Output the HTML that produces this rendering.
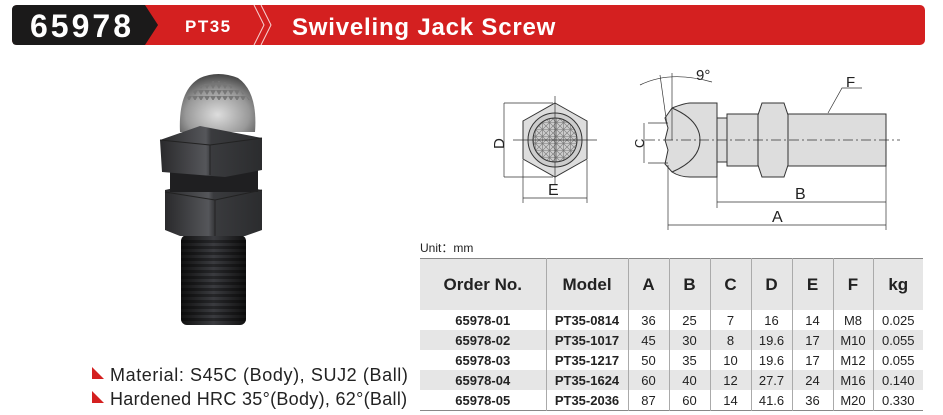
<!DOCTYPE html>
<html><head><meta charset="utf-8"><style>
body{margin:0;width:943px;height:415px;background:#fff;position:relative;overflow:hidden;font-family:"Liberation Sans",Arial,sans-serif}
.abs{position:absolute}
table{border-collapse:collapse;position:absolute;left:420px;top:258px;width:503px;font-size:13px;color:#222}
td{text-align:center;padding:0;height:20px;border-left:1px solid #aaa}
td:first-child{border-left:none}
tr.h td{height:51px;font-size:17px;font-weight:bold;background:#e6e6e6}
tr.g td{background:#e6e6e6}
tr td:nth-child(1),tr td:nth-child(2){font-weight:bold}
table{border-top:1px solid #888;border-bottom:1px solid #888}
</style></head><body>
<svg class="abs" style="left:0;top:0" width="943" height="415">
<defs>
<linearGradient id="hx" x1="0" x2="1"><stop offset="0" stop-color="#2a2a2c"/><stop offset=".45" stop-color="#55565a"/><stop offset=".5" stop-color="#3a3b3e"/><stop offset="1" stop-color="#2b2c2e"/></linearGradient>
<linearGradient id="th" x1="0" x2="1"><stop offset="0" stop-color="#111"/><stop offset=".5" stop-color="#3a3b3f"/><stop offset="1" stop-color="#111"/></linearGradient>
<radialGradient id="ball" cx=".5" cy=".7" r=".7"><stop offset="0" stop-color="#ddd"/><stop offset=".6" stop-color="#999"/><stop offset="1" stop-color="#444"/></radialGradient>
<pattern id="thr" width="6" height="6" patternUnits="userSpaceOnUse"><rect width="6" height="3" fill="#000" opacity=".35"/></pattern>
<pattern id="kn" width="6" height="6" patternUnits="userSpaceOnUse"><path d="M0 0L3 5L6 0" fill="#777"/></pattern>
<pattern id="grid" width="7" height="7" patternUnits="userSpaceOnUse"><path d="M0 0L7 7M7 0L0 7M3.5 0V7M0 3.5H7" stroke="#777" stroke-width=".6" fill="none"/></pattern>
</defs>
<rect x="12" y="5" width="913" height="40" rx="5" fill="#d42020"/>
<path d="M17 5H145L158 25L145 45H17Q12 45 12 40V10Q12 5 17 5Z" fill="#1b1a1a"/>
<text x="30" y="37" font-size="32" font-weight="bold" fill="#fff" letter-spacing="3">65978</text>
<text x="185" y="32" font-size="17" font-weight="bold" fill="#fff" letter-spacing="1.5">PT35</text>
<path d="M254 5L264 25L254 45M261 5L271 25L261 45" stroke="#fff" stroke-width="1" fill="none" opacity=".8"/>
<text x="292" y="35" font-size="24" font-weight="bold" fill="#fff" letter-spacing="0.8">Swiveling Jack  Screw</text>
<path d="M180 132Q178 90 200 78Q218 70 238 78Q258 92 255 132Z" fill="url(#ball)"/>
<path d="M185 100Q217 62 250 100Z" fill="url(#kn)"/>
<rect x="181" y="235" width="65" height="90" rx="6" fill="url(#th)"/>
<rect x="181" y="240" width="65" height="82" fill="url(#thr)"/>
<path d="M165 190L210 180L262 190V230L245 236H180L165 230Z" fill="url(#hx)"/>
<rect x="170" y="170" width="88" height="22" fill="#1f1f21"/>
<path d="M160 140L200 126L262 138V170L225 177L162 172Z" fill="url(#hx)"/>
<path d="M160 140L210 145L262 138M210 145V175M165 192L215 200L262 190M215 200V236" stroke="#222" fill="none"/>
<g stroke="#333" stroke-width="1" fill="none">
<path d="M555 103L587 121L587 159L555 177L523 159L523 121Z" fill="#ddd"/>
<circle cx="555" cy="140" r="27" fill="#ccc"/>
<circle cx="555" cy="140" r="22" fill="url(#grid)"/>
<path d="M513 140H597M555 96V185" stroke-width=".7"/>
<path d="M504 103H553M504 177H553M504 103V177M523 160V203M587 160V203M523 198H587" stroke-width=".7"/>
</g>
<text x="488" y="147" font-size="15" fill="#222" transform="rotate(-90 497 140)">D</text>
<text x="548" y="195" font-size="16" fill="#222">E</text>
<g stroke="#333" stroke-width="1">
<path d="M672 108Q685 103 690 103H717V177H690Q680 177 672 172L665 164L668 150L665 140L668 128L665 118Z" fill="#ddd"/>
<path d="M717 118H727V162H717Z" fill="#ddd"/>
<rect x="727" y="114" width="159" height="52" fill="#ddd"/>
<path d="M762 103H784L788 115V165L784 177H762L758 165V115Z" fill="#ddd"/>
<path d="M645 140H900" stroke-dasharray="10 3 2 3" stroke-width=".7" fill="none"/>
<path d="M672 108Q700 120 700 140Q700 160 672 172" fill="none"/>
<g fill="none" stroke-width=".7">
<path d="M648 123H668M648 163H668M644 123V163"/>
<path d="M717 177V208M886 166V230M668 165V230M717 202H886M668 225H886"/>
<path d="M672 73V140M660 75L667 125M640 85Q670 70 712 82"/>
<path d="M828 113L842 88H862"/>
</g>
</g>
<text x="632" y="150" font-size="13" fill="#222" transform="rotate(-90 637 143)">C</text>
<text x="795" y="199" font-size="16" fill="#222">B</text>
<text x="772" y="222" font-size="16" fill="#222">A</text>
<text x="696" y="80" font-size="15" fill="#222">9°</text>
<text x="846" y="87" font-size="15" fill="#222">F</text>
<path d="M92 367V379H104Z" fill="#d42020"/>
<path d="M92 391V403H104Z" fill="#d42020"/>
<text x="110" y="381" font-size="18" fill="#222" letter-spacing="0.6">Material: S45C (Body), SUJ2 (Ball)</text>
<text x="110" y="405" font-size="18" fill="#222" letter-spacing="0.3">Hardened HRC 35°(Body), 62°(Ball)</text>
<text x="420" y="252" font-size="12" fill="#222">Unit：mm</text>
</svg>
<table>
<colgroup><col style="width:126px"><col style="width:82px"><col style="width:41px"><col style="width:41px"><col style="width:41px"><col style="width:41px"><col style="width:41px"><col style="width:40px"><col style="width:50px"></colgroup>
<tr class="h"><td>Order No.</td><td>Model</td><td>A</td><td>B</td><td>C</td><td>D</td><td>E</td><td>F</td><td>kg</td></tr>
<tr><td>65978-01</td><td>PT35-0814</td><td>36</td><td>25</td><td>7</td><td>16</td><td>14</td><td>M8</td><td>0.025</td></tr>
<tr class="g"><td>65978-02</td><td>PT35-1017</td><td>45</td><td>30</td><td>8</td><td>19.6</td><td>17</td><td>M10</td><td>0.055</td></tr>
<tr><td>65978-03</td><td>PT35-1217</td><td>50</td><td>35</td><td>10</td><td>19.6</td><td>17</td><td>M12</td><td>0.055</td></tr>
<tr class="g"><td>65978-04</td><td>PT35-1624</td><td>60</td><td>40</td><td>12</td><td>27.7</td><td>24</td><td>M16</td><td>0.140</td></tr>
<tr><td>65978-05</td><td>PT35-2036</td><td>87</td><td>60</td><td>14</td><td>41.6</td><td>36</td><td>M20</td><td>0.330</td></tr>
</table>
</body></html>
